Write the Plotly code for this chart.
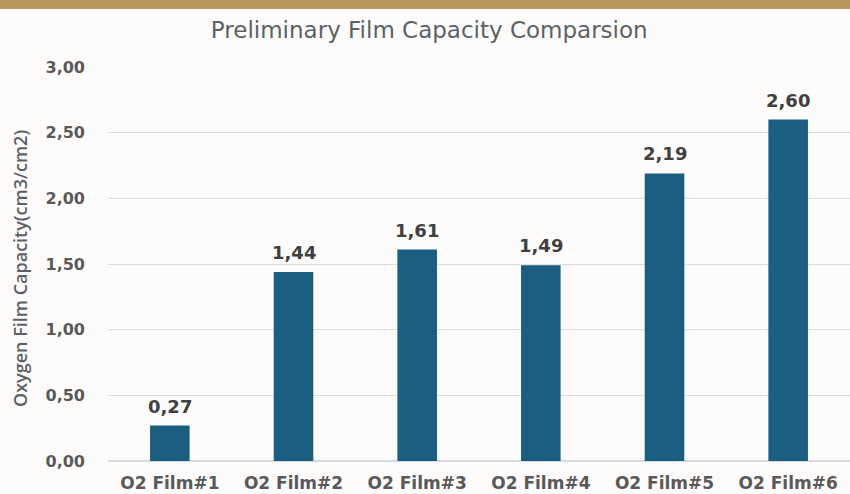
import plotly.graph_objects as go

categories = ["O2 Film#1", "O2 Film#2", "O2 Film#3", "O2 Film#4", "O2 Film#5", "O2 Film#6"]
values = [0.27, 1.44, 1.61, 1.49, 2.19, 2.60]
y_ticks = [0, 0.5, 1.0, 1.5, 2.0, 2.5, 3.0]
y_title = "Oxygen Film Capacity(cm3/cm2)"

fig = go.Figure()
fig.add_trace(go.Bar(
    x=categories, y=values,
    marker=dict(color="#1b5e80", line=dict(width=0)),
))

for c, v in zip(categories, values):
    fig.add_annotation(x=c, y=v, text=f"{v:.2f}".replace(".", ","), showarrow=False,
                       yanchor="bottom", yshift=7,
                       font=dict(family="DejaVu Sans", size=18, color="#404040", weight="bold"))

top, bottom, left = 67, 33, 108
plot_h = 494 - top - bottom
plot_w = 850 - left

fig.add_annotation(xref="paper", yref="paper", x=-(left - 20) / plot_w, y=0.5 - 5 / plot_h,
                   text=y_title, textangle=-90, showarrow=False,
                   xanchor="center", yanchor="middle",
                   font=dict(family="Open Sans", size=18, color="#5a6268", weight=600))

fig.add_shape(type="rect", xref="paper", yref="paper", x0=-1, x1=2,
              y0=1 + (top - 9) / plot_h, y1=1 + (top + 2) / plot_h,
              fillcolor="#b89660", line=dict(width=0), layer="above")

fig.update_layout(
    width=850, height=494,
    margin=dict(l=left, r=0, t=top, b=bottom, autoexpand=False),
    paper_bgcolor="#fefcfb", plot_bgcolor="#fefcfb",
    separators=", ",
    bargap=0.68,
    showlegend=False,
    title=dict(text="Preliminary Film Capacity Comparsion", x=0.505, xanchor="center",
               y=1 - 30 / 494, yanchor="middle",
               font=dict(family="DejaVu Sans", size=23, color="#5a6268")),
    xaxis=dict(showgrid=False, showline=False, automargin=False,
               tickfont=dict(family="DejaVu Sans", size=17, color="#595959", weight="bold"),
               ticklabelstandoff=10),
    yaxis=dict(range=[0, 3], tickvals=y_ticks, tickformat=".2f", automargin=False,
               showgrid=True, gridcolor="#dddddd", gridwidth=1,
               zeroline=True, zerolinecolor="#d3dae1", zerolinewidth=2,
               tickfont=dict(family="DejaVu Sans", size=16, color="#595959", weight="bold"),
               ticklabelstandoff=22),
)

fig.write_html("out.html")
